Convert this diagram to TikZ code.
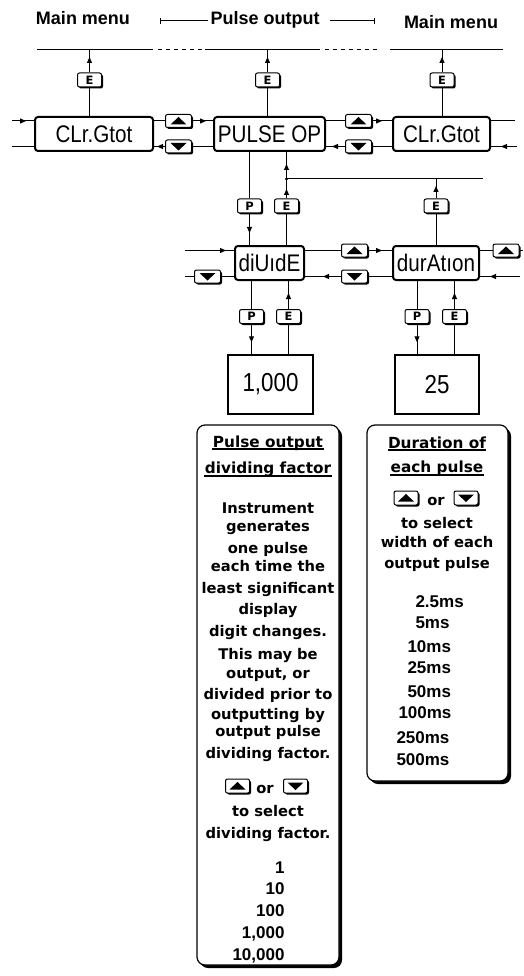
\documentclass[tikz,border=0pt]{standalone}
\usepackage{fontspec}
\setmainfont{DejaVu Sans}
\newfontfamily\lcd[FakeStretch=0.86]{Liberation Sans}
\newfontfamily\arial{Liberation Sans}
\usetikzlibrary{shadows,decorations.markings,arrows.meta}
\tikzset{
  disp/.style={draw, line width=2pt, rounded corners=3pt, minimum height=34, inner sep=0, font=\lcd\fontsize{24}{24}\selectfont},
  valbox/.style={draw, line width=1.5pt, minimum height=59, inner sep=0, font=\lcd\fontsize{26}{26}\selectfont},
  btn/.style={draw, line width=1pt, rounded corners=2pt, fill=white, minimum width=26, minimum height=13, inner sep=0,
    drop shadow={shadow xshift=1.5pt, shadow yshift=-1.5pt, fill=black, opacity=1}},
  upbtn/.style={btn, path picture={\fill[black, sharp corners] ([xshift=-8pt,yshift=-3.5pt]path picture bounding box.center) -- ++(16pt,0) -- ++(-8pt,7.5pt) -- cycle;}},
  dnbtn/.style={btn, path picture={\fill[black, sharp corners] ([xshift=-8pt,yshift=3.5pt]path picture bounding box.center) -- ++(16pt,0) -- ++(-8pt,-7.5pt) -- cycle;}},
  sbtn/.style={btn, minimum width=24, minimum height=14, font=\bfseries\fontsize{11.5}{11.5}\selectfont},
  ibtnup/.style={upbtn, minimum width=24, minimum height=14},
  ibtndn/.style={dnbtn, minimum width=24, minimum height=14},
  tipat/.style={postaction={decorate, decoration={markings, mark=at position #1 with {\arrow{Triangle[length=6pt,width=5pt]}}}}},
  hdr/.style={font=\arial\bfseries\fontsize{18}{18}\selectfont, inner sep=0, anchor=base},
  infobox/.style={draw, line width=1.2pt, rounded corners=8pt, fill=white,
    drop shadow={shadow xshift=3pt, shadow yshift=-3pt, fill=black, opacity=1}},
  txt/.style={font=\bfseries\fontsize{14.7}{17}\selectfont, inner sep=0, anchor=base},
  htxt/.style={font=\bfseries\fontsize{15.3}{17}\selectfont, inner sep=0, anchor=base},
  num/.style={font=\arial\bfseries\fontsize{17}{17}\selectfont, inner sep=0},
}
\begin{document}
\begin{tikzpicture}[x=1pt,y=-1pt,line width=1pt]
\useasboundingbox (0,0) rectangle (523,976);

% header
\node[hdr] (mm1) at (83,25) {Main menu};
\node[hdr] (pu) at (265,25) {Pulse output};
\node[hdr] (mm2) at (451,29) {Main menu};
\coordinate (pa) at (160,21); \coordinate (pa2) at (208,21);
\coordinate (pb) at (375,21); \coordinate (pb2) at (330,21);
\draw[{Bar[width=6pt]}-] (pa) -- (pa2);
\draw[{Bar[width=6pt]}-] (pb) -- (pb2);

% top line
\draw (37,50) -- (153,50);
\draw[dash pattern=on 4pt off 4pt] (158,50) -- (203,50);
\draw (205,50) -- (320,50);
\draw[dash pattern=on 4pt off 4pt] (325,50) -- (380,50);
\draw (390,50) -- (503,50);

% main row
\node[disp, minimum width=118] (c1) at (94,134) {CLr.Gtot};
\node[disp, minimum width=111] (po) at (269.5,134) {PULSE OP};
\node[disp, minimum width=97] (c2) at (441.5,134) {CLr.Gtot};

\node[sbtn] (E1) at (89.5,80) {E};
\node[sbtn] (E2) at (267.5,80) {E};
\node[sbtn] (E3) at (442,80) {E};
\coordinate (t1) at (89.5,50); \coordinate (t2) at (267.5,50); \coordinate (t3) at (442,50);
\draw (c1.north -| E1) -- (E1); \draw[tipat=-7pt] (E1) -- (t1);
\draw (po.north -| E2) -- (E2); \draw[tipat=-7pt] (E2) -- (t2);
\draw (c2.north -| E3) -- (E3); \draw[tipat=-7pt] (E3) -- (t3);

\node[upbtn] (U1) at (178.5,121) {};
\node[dnbtn] (D1) at (178.5,146.5) {};
\node[upbtn] (U2) at (358.5,121) {};
\node[dnbtn] (D2) at (358.5,146.5) {};
\coordinate (l1) at (12,121); \coordinate (l2) at (12,146.5);
\coordinate (r1) at (515,121); \coordinate (r2) at (517,146.5);
\draw[tipat=-8pt] (l1) -- (c1.west |- l1);
\draw (c1.west |- l2) -- (l2);
\draw (c1.east |- U1) -- (U1); \draw[tipat=-7pt] (U1) -- (po.west |- U1);
\draw (po.west |- D1) -- (D1); \draw[tipat=-3pt] (D1) -- (c1.east |- D1);
\draw (po.east |- U2) -- (U2); \draw[tipat=-10pt] (U2) -- (c2.west |- U2);
\draw (c2.west |- D2) -- (D2); \draw[tipat=-6pt] (D2) -- (po.east |- D2);
\draw (c2.east |- r1) -- (r1);
\draw[tipat=-10pt] (r2) -- (c2.east |- r2);

% second row
\node[disp, minimum width=69] (dv) at (269.5,263) {diUıdE};
\node[disp, minimum width=86] (du) at (436,263) {durAtıon};

\node[sbtn] (P3) at (249.5,206) {P};
\node[sbtn] (E4) at (286.5,206) {E};
\node[sbtn] (E5) at (436,206) {E};
\coordinate (jn) at (286.5,179); \coordinate (jr) at (483,179);
\draw (po.south -| P3) -- (P3); \draw[tipat=-12pt] (P3) -- (dv.north -| P3);
\draw (dv.north -| E4) -- (E4);
\draw[tipat=-10pt] (E4) -- (jn);
\draw[tipat=-12pt] (jn) -- (po.south -| jn);
\draw (jn) -- (jr);
\fill (jn) circle[radius=1.6pt];
\draw (du.north -| E5) -- (E5); \draw[tipat=-7pt] (E5) -- (E5 |- jn);

\node[upbtn] (U3) at (354.5,250.5) {};
\node[dnbtn] (D4) at (354.5,276.5) {};
\node[dnbtn] (D3) at (207.5,276.5) {};
\node[upbtn] (U4) at (506,250.5) {};
\coordinate (l3) at (185,250.5); \coordinate (l4) at (185,276.5);
\coordinate (r3) at (523,250.5); \coordinate (r4) at (520,276.5);
\draw[tipat=-8pt] (l3) -- (dv.west |- l3);
\draw (dv.west |- D3) -- (D3); \draw (D3) -- (l4);
\draw (dv.east |- U3) -- (U3); \draw[tipat=-10pt] (U3) -- (du.west |- U3);
\draw (du.west |- D4) -- (D4); \draw[tipat=-18pt] (D4) -- (dv.east |- D4);
\draw (du.east |- U4) -- (U4); \draw (U4) -- (r3);
\draw[tipat=-10pt] (r4) -- (du.east |- r4);

% value boxes
\node[valbox, minimum width=85] (v1) at (270.5,384.5) {1,000};
\node[valbox, minimum width=84] (v2) at (437,384.5) {25};
\node[sbtn] (P5) at (251.5,316.5) {P};
\node[sbtn] (E6) at (288.5,316.5) {E};
\node[sbtn] (P6) at (417,316.5) {P};
\node[sbtn] (E7) at (454.5,316.5) {E};
\draw (dv.south -| P5) -- (P5); \draw[tipat=-12pt] (P5) -- (v1.north -| P5);
\draw (v1.north -| E6) -- (E6); \draw[tipat=-12pt] (E6) -- (dv.south -| E6);
\draw (du.south -| P6) -- (P6); \draw[tipat=-12pt] (P6) -- (v2.north -| P6);
\draw (v2.north -| E7) -- (E7); \draw[tipat=-12pt] (E7) -- (du.south -| E7);

% info boxes
\node[infobox, minimum width=142, minimum height=540] (ib1) at (268,695) {};
\node[infobox, minimum width=141, minimum height=356] (ib2) at (437.5,603) {};

% left box text
\node[htxt] (h1) at (268,447) {Pulse output};
\node[htxt] (h2) at (268,473) {dividing factor};
\draw[line width=1.6pt] ([yshift=-2pt]h1.base west) -- ([yshift=-2pt]h1.base east);
\draw[line width=1.6pt] ([yshift=-3pt]h2.base west) -- ([yshift=-3pt]h2.base east);
\foreach \t/\y in {Instrument/513, generates/531, one pulse/553, each time the/571, least significant/593, display/614, digit changes./636, This may be/659, {output, or}/678, divided prior to/699, outputting by/719, output pulse/736, dividing factor./758, to select/816, dividing factor./838}
  \node[txt] (a\y) at (268,\y) {\t};
\node[ibtnup] (U5) at (237.5,786) {};
\node[txt] (or1) at (265,793) {or};
\node[ibtndn] (D5) at (295.5,786) {};
\foreach \t/\y in {1/873, 10/894, 100/916, {1,000}/938, {10,000}/960}
  \node[num, anchor=base east] (n\y) at (285,\y) {\t};

% right box text
\node[htxt] (h3) at (437,448) {Duration of};
\node[htxt] (h4) at (437,472) {each pulse};
\draw[line width=1.6pt] ([yshift=-2pt]h3.base west) -- ([yshift=-2pt]h3.base east);
\draw[line width=1.6pt] ([yshift=-3pt]h4.base west) -- ([yshift=-3pt]h4.base east);
\node[ibtnup] (U6) at (406,498) {};
\node[txt] (or2) at (436,505) {or};
\node[ibtndn] (D6) at (466,498) {};
\foreach \t/\y in {to select/528, width of each/547, output pulse/568}
  \node[txt] (b\y) at (437,\y) {\t};
\foreach \t/\x/\y in {2.5ms/415/607, 5ms/415/628, 10ms/407/652, 25ms/407/673, 50ms/407/697, 100ms/398/718, 250ms/396/743, 500ms/396/765}
  \node[num, anchor=base west] (m\y) at (\x,\y) {\t};
\end{tikzpicture}
\end{document}
